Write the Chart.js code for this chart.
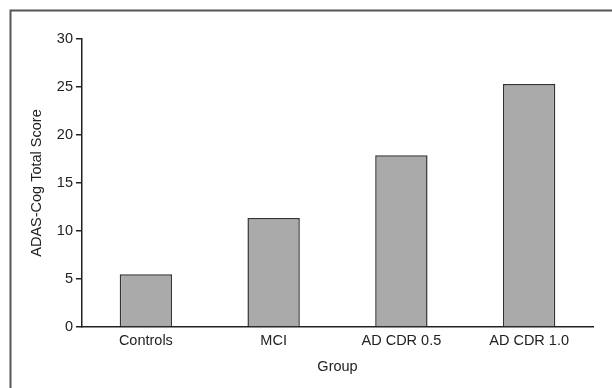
<!DOCTYPE html>
<html>
<head>
<meta charset="utf-8">
<script src="https://cdn.jsdelivr.net/npm/chart.js@4.4.1/dist/chart.umd.min.js"></script>
<style>
html,body{margin:0;padding:0;background:#fff;}
#wrap{width:612px;height:388px;position:relative;}
</style>
</head>
<body>
<div id="wrap"><canvas id="c" width="612" height="388"></canvas></div>
<script>
const categories = ["Controls", "MCI", "AD CDR 0.5", "AD CDR 1.0"];
const scores = [5.5, 11.35, 17.9, 25.3];
const yTicks = [0, 5, 10, 15, 20, 25, 30];
const yTitle = "ADAS-Cog Total Score";
const xTitle = "Group";

const frame = {
  id: 'frame',
  afterDraw(chart) {
    const ctx = chart.ctx;
    ctx.save();
    ctx.strokeStyle = '#555';
    ctx.lineWidth = 2;
    ctx.beginPath();
    ctx.moveTo(10.5, 388);
    ctx.lineTo(10.5, 10.5);
    ctx.lineTo(612, 10.5);
    ctx.stroke();
    ctx.restore();
  }
};

const font = {family: "'Liberation Sans', Arial, sans-serif", size: 14.5};
Chart.defaults.color = '#222';

new Chart(document.getElementById('c'), {
  type: 'bar',
  data: {
    labels: categories,
    datasets: [{
      data: scores,
      backgroundColor: '#aaaaaa',
      borderColor: '#333',
      borderWidth: 1.5,
      categoryPercentage: 1,
      barPercentage: 0.41
    }]
  },
  options: {
    responsive: false,
    animation: false,
    events: [],
    layout: {padding: {left: 0, top: 39, right: 19, bottom: 0}},
    plugins: {legend: {display: false}, tooltip: {enabled: false}},
    scales: {
      x: {
        offset: true,
        grid: {display: false, drawTicks: false, tickLength: 0},
        border: {display: true, color: '#222', width: 1.5},
        ticks: {font: font, color: '#222', padding: 5, maxRotation: 0},
        title: {display: true, text: xTitle, font: font, color: '#222', padding: {top: 0, bottom: 12}},
        afterFit(s) { s.height = 61; }
      },
      y: {
        min: 0, max: 30,
        afterBuildTicks(s) { s.ticks = yTicks.map(v => ({value: v})); },
        grid: {display: true, drawOnChartArea: false, drawTicks: true, tickLength: 6, color: '#222', lineWidth: 1.5},
        border: {display: true, color: '#222', width: 1.5},
        ticks: {font: font, color: '#222', padding: 3},
        title: {display: true, text: yTitle, font: font, color: '#222', padding: {top: 28, bottom: 0}},
        afterFit(s) { s.width = 82; }
      }
    }
  },
  plugins: [frame]
});
</script>
</body>
</html>
